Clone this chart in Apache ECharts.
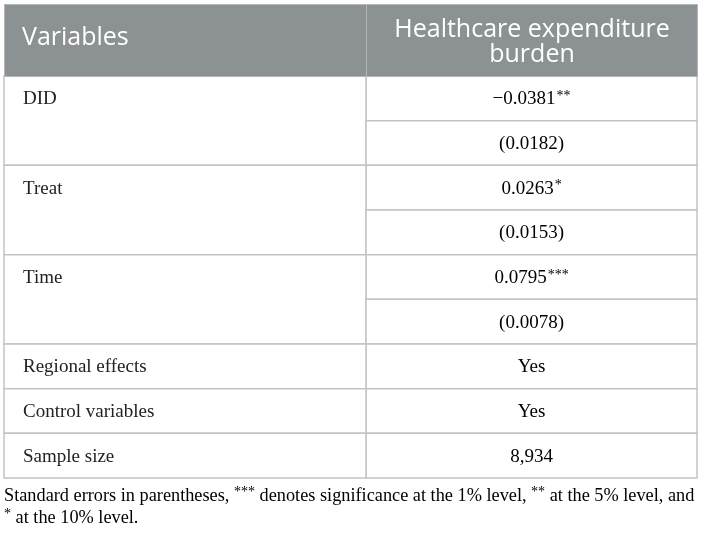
<!DOCTYPE html>
<html>
<head>
<meta charset="utf-8">
<script src="https://cdn.jsdelivr.net/npm/echarts@6/dist/echarts.min.js"></script>
<style>
  html, body { margin: 0; padding: 0; background: #fff; }
  #main { width: 703px; height: 535px; }
</style>
</head>
<body>
<div id="main"></div>
<script>
// regression table: healthcare expenditure burden

const headers = ['Variables', 'Healthcare expenditure\nburden'];
const rowLabels = ['DID', '', 'Treat', '', 'Time', '', 'Regional effects', 'Control variables', 'Sample size'];
const labelSpan = [2, 0, 2, 0, 2, 0, 1, 1, 1];
const estimates = ['\u22120.0381', '(0.0182)', '0.0263', '(0.0153)', '0.0795', '(0.0078)', 'Yes', 'Yes', '8,934'];
const stars = ['**', '', '*', '', '***', '', '', '', ''];
const noteLines = [
    ['Standard errors in parentheses, ', '***', ' denotes significance at the 1% level, ', '**', ' at the 5% level, and'],
    ['', '*', ' at the 10% level.']
];

const chart = echarts.init(document.getElementById('main'));

const headGray = '#8c9193';
const lineGray = '#c3c3c3';
const serif = '"Liberation Serif", "DejaVu Serif", serif';
const sans = '"Open Sans", "Noto Sans", sans-serif';
const colSplit = 362 / 693;

const bodyRich = {
    n: { fontFamily: serif, fontSize: 19, color: '#222', lineHeight: 20 },
    s: { fontFamily: serif, fontSize: 14, color: '#222', lineHeight: 20, verticalAlign: 'top', padding: [0, 0, 3, 1] }
};

function richText(parts) {
    // odd entries are superscript stars
    return parts.map(function (p, k) {
        if (!p) return '';
        return (k % 2 ? '{s|' : '{n|') + p + '}';
    }).join('');
}

const option = {
    animation: false,
    grid: { left: 4, right: 6, top: 76, bottom: 57 },
    xAxis: { type: 'value', min: 0, max: 1, show: false },
    yAxis: {
        type: 'category',
        inverse: true,
        show: false,
        data: estimates.map(function (_, i) { return 'row' + i; })
    },
    graphic: [
        {
            type: 'rect', left: 4, top: 4, z: 10,
            shape: { width: 362, height: 72 },
            style: { fill: headGray, stroke: '#b4b6b7', lineWidth: 1 }
        },
        {
            type: 'rect', left: 366, top: 4, z: 10,
            shape: { width: 331, height: 72 },
            style: { fill: headGray, stroke: '#b4b6b7', lineWidth: 1 }
        },
        {
            type: 'text', left: 22, top: 25, z: 11,
            style: { text: headers[0], fill: '#fff', font: '25px ' + sans }
        },
        {
            type: 'text', x: 532, y: 42, z: 11,
            style: {
                text: headers[1], fill: '#fff', font: '25px ' + sans,
                align: 'center', verticalAlign: 'middle', lineHeight: 25
            }
        },
        {
            type: 'text', left: 4, top: 485, z: 11,
            style: {
                text: noteLines.map(richText).join('\n'),
                rich: {
                    n: { fontFamily: serif, fontSize: 18.3, color: '#222', lineHeight: 22 },
                    s: { fontFamily: serif, fontSize: 14, color: '#222', lineHeight: 22, verticalAlign: 'top' }
                }
            }
        }
    ],
    series: [
        {
            type: 'custom',
            coordinateSystem: 'cartesian2d',
            encode: { x: 0, y: 1 },
            data: estimates.map(function (v, i) { return [0, i]; }),
            renderItem: function (params, api) {
                const i = api.value(1);
                const c = api.coord([0, i]);
                const h = api.size([0, 1])[1];
                const xL = c[0];
                const xM = api.coord([colSplit, i])[0];
                const xR = api.coord([1, i])[0];
                const yTop = c[1] - h / 2;
                const children = [
                    {
                        type: 'rect',
                        shape: { x: xM, y: yTop, width: xR - xM, height: h },
                        style: { fill: '#fff', stroke: lineGray, lineWidth: 1.5 }
                    },
                    {
                        type: 'text',
                        z2: 5,
                        style: {
                            text: richText([estimates[i], stars[i]]),
                            rich: bodyRich,
                            x: (xM + xR) / 2, y: c[1] + 1,
                            align: 'center', verticalAlign: 'middle'
                        }
                    }
                ];
                if (labelSpan[i] > 0) {
                    children.push({
                        type: 'rect',
                        shape: { x: xL, y: yTop, width: xM - xL, height: h * labelSpan[i] },
                        style: { fill: '#fff', stroke: lineGray, lineWidth: 1.5 }
                    });
                    children.push({
                        type: 'text',
                        z2: 5,
                        style: {
                            text: rowLabels[i],
                            x: xL + 19, y: c[1] + 1,
                            font: '19px ' + serif, fill: '#222',
                            align: 'left', verticalAlign: 'middle'
                        }
                    });
                }
                return { type: 'group', children: children };
            }
        }
    ]
};

chart.setOption(option);
</script>
</body>
</html>
